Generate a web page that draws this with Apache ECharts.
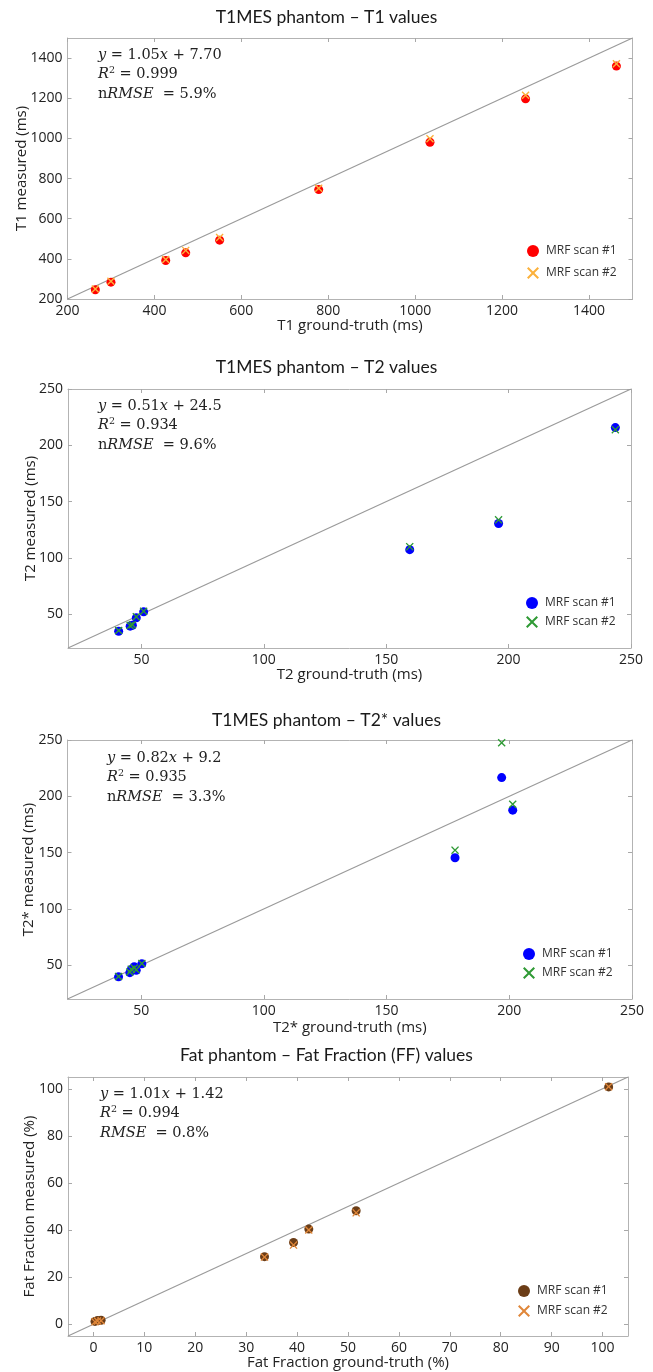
<!DOCTYPE html>
<html>
<head>
<meta charset="utf-8">
<script src="https://cdn.jsdelivr.net/npm/echarts@6/dist/echarts.min.js"></script>
<style>
  html, body { margin: 0; padding: 0; background: #ffffff; }
  .panel { position: absolute; left: 0; top: 0; width: 653px; height: 1372px; }
</style>
</head>
<body>
<div id="p1" class="panel"></div>
<div id="p2" class="panel"></div>
<div id="p3" class="panel"></div>
<div id="p4" class="panel"></div>
<script>
// ---- T1 (ms) ----
const t1Truth = [264, 300, 426, 472, 550, 778, 1034, 1254, 1463];
const t1Scan1 = [246, 284, 392, 430, 493, 745, 981, 1197, 1360];
const t1Scan2 = [250, 288, 397, 442, 506, 752, 998, 1215, 1372];
const t1Ticks = [200, 400, 600, 800, 1000, 1200, 1400];

// ---- T2 (ms) ----
const t2Truth = [40.7, 45.4, 46.3, 47.9, 50.9, 159.6, 195.9, 243.6];
const t2Scan1 = [34.9, 39.4, 40.2, 46.8, 52.1, 107.3, 130.6, 215.7];
const t2Scan2 = [35.5, 40.0, 40.6, 47.8, 52.6, 110.0, 133.8, 213.9];
const t2Ticks = [50, 100, 150, 200, 250];

// ---- T2* (ms) ----
const t2sTruth = [40.8, 45.4, 46.0, 47.2, 48.0, 50.3, 177.9, 196.9, 201.4];
const t2sScan1 = [39.7, 43.4, 46.2, 48.6, 45.5, 51.2, 145.4, 216.6, 187.7];
const t2sScan2 = [40.0, 44.0, 46.5, 47.5, 46.0, 51.5, 152.2, 247.6, 193.0];
const t2sTicks = [50, 100, 150, 200, 250];

// ---- Fat fraction (%) ----
const ffTruth = [0.3, 0.8, 1.5, 33.6, 39.3, 42.3, 51.6, 101.2];
const ffScan1 = [1.2, 1.6, 1.7, 28.7, 34.7, 40.4, 48.2, 100.8];
const ffScan2 = [1.0, 1.4, 1.5, 28.5, 33.6, 40.0, 47.3, 100.9];
const ffXTicks = [0, 10, 20, 30, 40, 50, 60, 70, 80, 90, 100];
const ffYTicks = [0, 20, 40, 60, 80, 100];

// ---- fit statistics printed in each panel ----
const t1Stats = ['{i|y} = 1.05{i|x} + 7.70', '{i|R}{s|2} = 0.999', 'n{i|RMSE}  = 5.9%'];
const t2Stats = ['{i|y} = 0.51{i|x} + 24.5', '{i|R}{s|2} = 0.934', 'n{i|RMSE}  = 9.6%'];
const t2sStats = ['{i|y} = 0.82{i|x} + 9.2', '{i|R}{s|2} = 0.935', 'n{i|RMSE}  = 3.3%'];
const ffStats = ['{i|y} = 1.01{i|x} + 1.42', '{i|R}{s|2} = 0.994', '{i|RMSE}  = 0.8%'];

// X-shaped marker (filled outline so it scales cleanly)
const CROSS = 'path://M0,1.2L1.2,0L5,3.8L8.8,0L10,1.2L6.2,5L10,8.8L8.8,10L5,6.2L1.2,10L0,8.8L3.8,5Z';

const SANS = 'Open Sans';
const SERIF = 'DejaVu Serif';
const FRAME = '#b3b3b3';

const panels = [
  {
    id: 'p1', title: 'T1MES phantom – T1 values', titleY: 3,
    grid: { left: 67.5, top: 38, width: 565, height: 261 },
    min: 200, max: 1500, xTicks: t1Ticks, yTicks: t1Ticks,
    xName: 'T1 ground-truth (ms)', yName: 'T1 measured (ms)', xGap: 19, yGap: 38,
    truth: t1Truth, s1: t1Scan1, s2: t1Scan2, c1: '#ff0000', c2: '#fbb13c',
    stats: t1Stats, statX: 98, statY: 55,
    legend: { left: 522, top: 240, gap: 10 }
  },
  {
    id: 'p2', title: 'T1MES phantom – T2 values', titleY: 353,
    grid: { left: 68, top: 389, width: 563, height: 259 },
    min: 20, max: 250, xTicks: t2Ticks, yTicks: t2Ticks,
    xName: 'T2 ground-truth (ms)', yName: 'T2 measured (ms)', xGap: 19, yGap: 29.5,
    truth: t2Truth, s1: t2Scan1, s2: t2Scan2, c1: '#0000ff', c2: '#2f9a35',
    stats: t2Stats, statX: 98, statY: 406,
    legend: { left: 521, top: 592, gap: 7 }
  },
  {
    id: 'p3', title: 'T1MES phantom – T2* values', titleY: 706,
    grid: { left: 67.5, top: 740, width: 564.5, height: 259 },
    min: 20, max: 250, xTicks: t2sTicks, yTicks: t2sTicks,
    xName: 'T2* ground-truth (ms)', yName: 'T2* measured (ms)', xGap: 21, yGap: 31,
    truth: t2sTruth, s1: t2sScan1, s2: t2sScan2, c1: '#0000ff', c2: '#2f9a35',
    stats: t2sStats, statX: 107, statY: 758,
    legend: { left: 518, top: 943, gap: 7 }
  },
  {
    id: 'p4', title: 'Fat phantom – Fat Fraction (FF) values', titleY: 1041,
    grid: { left: 68, top: 1077, width: 560, height: 259 },
    min: -5, max: 105, xTicks: ffXTicks, yTicks: ffYTicks,
    xName: 'Fat Fraction ground-truth (%)', yName: 'Fat Fraction measured (%)', xGap: 19.5, yGap: 30.5,
    truth: ffTruth, s1: ffScan1, s2: ffScan2, c1: '#6b3d17', c2: '#e0873a',
    stats: ffStats, statX: 100, statY: 1094,
    legend: { left: 513, top: 1280, gap: 8 }
  }
];

function pairs(xs, ys) {
  return xs.map((x, i) => [x, ys[i]]);
}

function valueAxis(p, ticks, pos, main) {
  return {
    type: 'value',
    position: pos,
    min: p.min,
    max: p.max,
    nameMoveOverlap: false,
    axisLine: { show: true, onZero: false, lineStyle: { color: FRAME, width: 1 } },
    axisTick: {
      show: true, inside: true, length: 4, customValues: ticks,
      lineStyle: { color: '#a8a8a8', width: 1 }
    },
    axisLabel: main ? {
      show: true, customValues: ticks, margin: 5,
      formatter: v => String(v),
      color: '#222222', fontFamily: SANS, fontSize: 14
    } : { show: false },
    splitLine: { show: false }
  };
}

function statsGraphics(p) {
  const rich = {
    i: { fontFamily: SERIF, fontStyle: 'italic', fontSize: 14.5, lineHeight: 18, fill: '#222' },
    s: { fontFamily: SERIF, fontSize: 9.5, lineHeight: 18, verticalAlign: 'top', fill: '#222' }
  };
  return p.stats.map((line, k) => ({
    type: 'text',
    x: p.statX,
    y: p.statY + k * 19.7,
    silent: true,
    style: {
      text: line,
      rich: rich,
      fontFamily: SERIF,
      fontSize: 14.5,
      lineHeight: 18,
      fill: '#222222',
      align: 'left',
      verticalAlign: 'middle'
    }
  }));
}

panels.forEach(p => {
  const chart = echarts.init(document.getElementById(p.id), null, { renderer: 'canvas' });
  const xMain = valueAxis(p, p.xTicks, 'bottom', true);
  Object.assign(xMain, {
    name: p.xName, nameLocation: 'middle', nameGap: p.xGap,
    nameTextStyle: { fontFamily: SANS, fontSize: 15, color: '#222222' }
  });
  const yMain = valueAxis(p, p.yTicks, 'left', true);
  Object.assign(yMain, {
    name: p.yName, nameLocation: 'middle', nameGap: p.yGap,
    nameTextStyle: { fontFamily: SANS, fontSize: 15, color: '#222222' }
  });

  chart.setOption({
    backgroundColor: 'transparent',
    animation: false,
    title: {
      text: p.title,
      left: 'center',
      top: p.titleY,
      textStyle: { fontFamily: 'Lato', fontSize: 17.5, fontWeight: 'normal', color: '#1a1a1a' }
    },
    grid: Object.assign({ show: false, containLabel: false }, p.grid),
    xAxis: [xMain, valueAxis(p, p.xTicks, 'top', false)],
    yAxis: [yMain, valueAxis(p, p.yTicks, 'right', false)],
    legend: {
      orient: 'vertical',
      left: p.legend.left,
      top: p.legend.top,
      itemWidth: 12,
      itemHeight: 12,
      itemGap: p.legend.gap,
      selectedMode: false,
      textStyle: { fontFamily: SANS, fontSize: 12, color: '#333333', padding: [0, 0, 0, 2] },
      data: ['MRF scan #1', 'MRF scan #2']
    },
    graphic: statsGraphics(p),
    series: [
      {
        // line of identity
        type: 'line',
        xAxisIndex: 0, yAxisIndex: 0,
        data: [[p.min, p.min], [p.max, p.max]],
        symbol: 'none',
        silent: true,
        lineStyle: { color: '#9a9a9a', width: 1.2 },
        z: 1
      },
      {
        name: 'MRF scan #1',
        type: 'scatter',
        xAxisIndex: 0, yAxisIndex: 0,
        symbol: 'circle',
        symbolSize: 9,
        itemStyle: { color: p.c1, opacity: 1 },
        data: pairs(p.truth, p.s1),
        z: 3
      },
      {
        name: 'MRF scan #2',
        type: 'scatter',
        xAxisIndex: 0, yAxisIndex: 0,
        symbol: CROSS,
        symbolSize: 8,
        itemStyle: { color: p.c2, opacity: 1 },
        data: pairs(p.truth, p.s2),
        z: 4
      }
    ]
  });
});
</script>
</body>
</html>
